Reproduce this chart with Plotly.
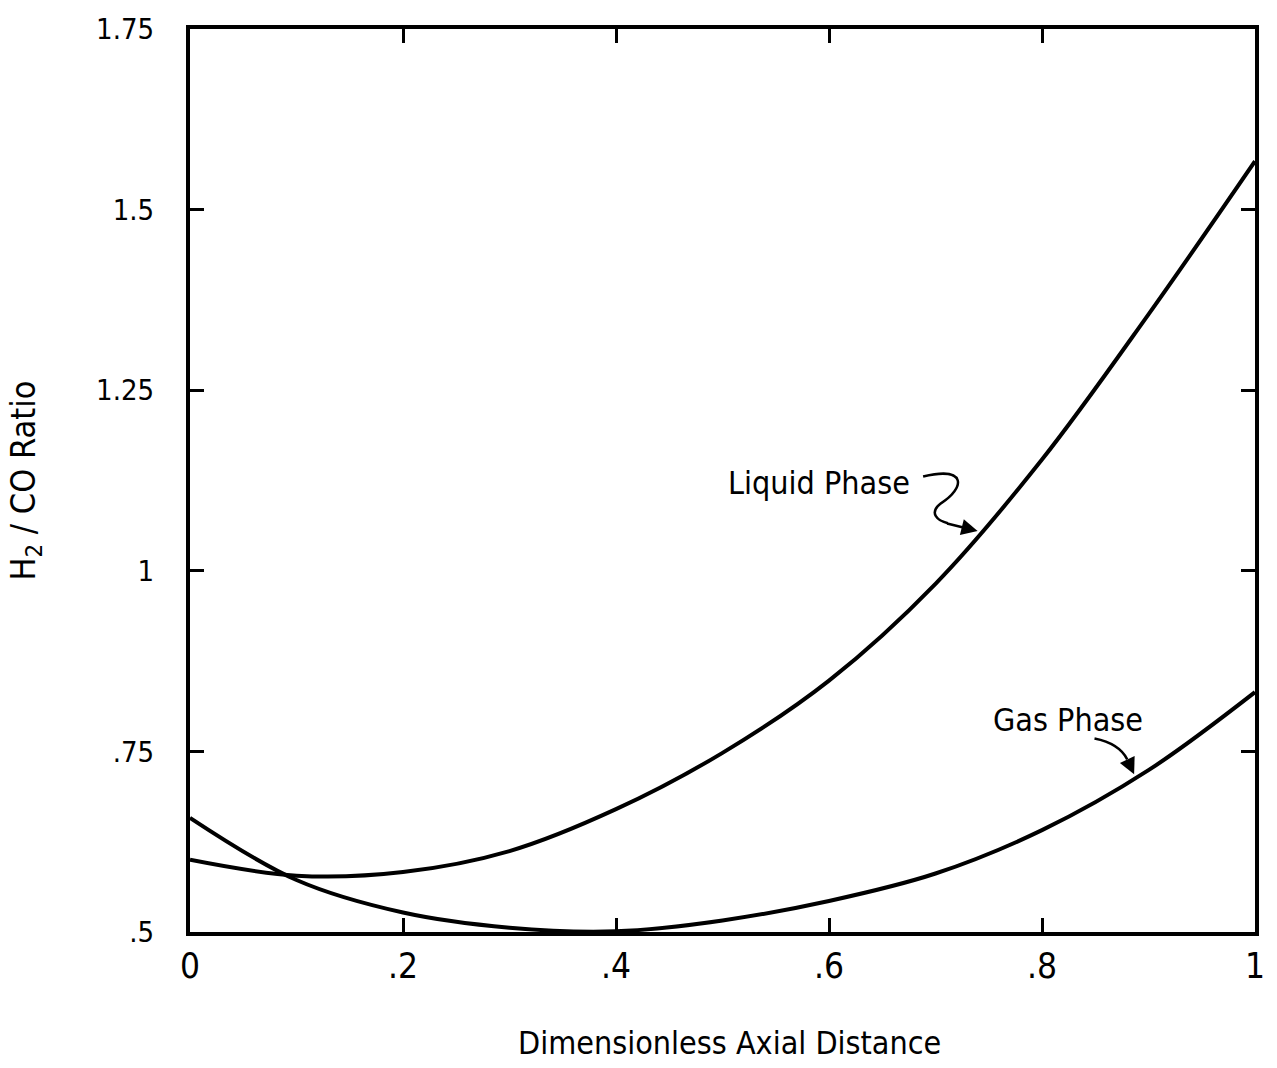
import plotly.graph_objects as go

# Data
x_pos = [0.0, 0.1, 0.2, 0.3, 0.4, 0.5, 0.6, 0.7, 0.8, 0.9, 1.0]
y_liquid = [0.600, 0.578, 0.583, 0.612, 0.670, 0.748, 0.848, 0.982, 1.154, 1.355, 1.567]
y_gas = [0.658, 0.572, 0.527, 0.506, 0.501, 0.516, 0.543, 0.581, 0.641, 0.724, 0.832]

x_ticks = [0, 0.2, 0.4, 0.6, 0.8, 1]
x_tick_labels = ["0", ".2", ".4", ".6", ".8", "1"]
y_ticks = [0.5, 0.75, 1, 1.25, 1.5, 1.75]
y_tick_labels = [".5", ".75", "1", "1.25", "1.5", "1.75"]

FONT = "DejaVu Sans Condensed, Liberation Sans Narrow, sans-serif"

# plot-area geometry (pixels)
L, R, T, B = 190, 12, 22, 136
W = 1277 - L - R
H = 1068 - T - B


def px(p):
    return (p - L) / W


def py(p):
    return 0.5 + (T + H - p) / H * 1.25


fig = go.Figure()
fig.add_trace(go.Scatter(x=x_pos, y=y_liquid, mode="lines", line=dict(color="black", width=4, shape="spline", smoothing=1.0), showlegend=False))
fig.add_trace(go.Scatter(x=x_pos, y=y_gas, mode="lines", line=dict(color="black", width=4, shape="spline", smoothing=1.0), showlegend=False))

axis_common = dict(
    showgrid=False, zeroline=False, showline=True, linecolor="black", linewidth=4,
    mirror="allticks", ticks="inside", ticklen=14, tickwidth=3, tickcolor="black",
)

fig.update_xaxes(range=[0, 1], tickvals=x_ticks, ticktext=x_tick_labels, ticklabelstandoff=0,
                 tickfont=dict(family=FONT, size=35, color="black"), **axis_common)
fig.update_yaxes(range=[0.5, 1.75], tickvals=y_ticks, ticktext=y_tick_labels, ticklabelstandoff=26,
                 tickfont=dict(family=FONT, size=29, color="black"), **axis_common)

# curly arrow tails
fig.add_shape(type="path", xref="x", yref="y",
              path=f"M {px(930)},{py(473)} C {px(975)},{py(462)} {px(972)},{py(485)} {px(948)},{py(500)} C {px(935)},{py(510)} {px(945)},{py(518)} {px(955)},{py(520)}",
              line=dict(color="black", width=2.5))
fig.add_shape(type="path", xref="x", yref="y",
              path=f"M {px(1103)},{py(737)} Q {px(1128)},{py(742)} {px(1136)},{py(758)}",
              line=dict(color="black", width=2.5))

annotations = [
    dict(x=px(985), y=py(528), ax=-32, ay=-8, text="", showarrow=True, arrowhead=2, arrowsize=1.3, arrowwidth=2.5, arrowcolor="black", xref="x", yref="y"),
    dict(x=px(1143), y=py(773), ax=-7, ay=-15, text="", showarrow=True, arrowhead=2, arrowsize=1.3, arrowwidth=2.5, arrowcolor="black", xref="x", yref="y"),
    dict(x=px(825), y=py(480), text="Liquid Phase", showarrow=False, font=dict(family=FONT, size=32, color="black"), xref="x", yref="y"),
    dict(x=px(1076), y=py(718), text="Gas Phase", showarrow=False, font=dict(family=FONT, size=32, color="black"), xref="x", yref="y"),
    dict(x=0.507, y=0, xref="paper", yref="paper", yshift=-111, xanchor="center", yanchor="middle",
         text="Dimensionless Axial Distance", showarrow=False, font=dict(family=FONT, size=32, color="black")),
    dict(x=0, y=0.5, xref="paper", yref="paper", xshift=-165, xanchor="center", yanchor="middle",
         text="H<sub>2</sub> / CO Ratio", textangle=-90, showarrow=False, font=dict(family=FONT, size=34, color="black")),
]
fig.update_layout(
    annotations=annotations,
    width=1277, height=1068,
    margin=dict(l=L, r=R, t=T, b=B),
    paper_bgcolor="white", plot_bgcolor="white",
    showlegend=False,
)

fig.write_html("out.html")
